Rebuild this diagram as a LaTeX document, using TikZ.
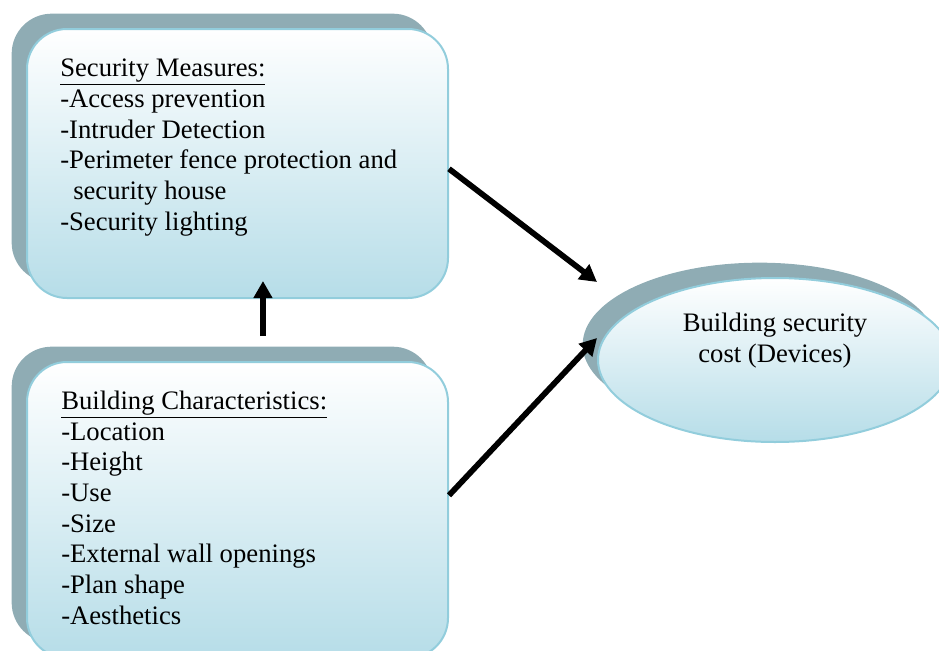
\documentclass[tikz,border=0pt]{standalone}
\usepackage{fontspec}
\setmainfont{Liberation Serif}
\usepackage{xcolor}
\usetikzlibrary{shapes,arrows.meta,positioning,shadows}

\definecolor{shadowgray}{HTML}{8FACB4}
\definecolor{rimblue}{HTML}{92CDDC}
\definecolor{fillblue}{HTML}{B6DDE8}

\tikzset{
    blob/.style={draw=rimblue, line width=1.5pt, top color=white, bottom color=fillblue,
        general shadow={fill=shadowgray, shadow xshift=-11.5pt, shadow yshift=11.5pt}},
    box/.style={blob, rectangle, rounded corners=30pt, inner sep=0pt},
    oval/.style={blob, ellipse, inner sep=0pt},
    txt/.style={inner sep=0pt, align=left, font=\fontsize{20}{23}\selectfont},
    arrow/.style={line width=4.3pt, -{Triangle[length=12.75pt,width=13.5pt]}}
}

\begin{document}
\begin{tikzpicture}[x=0.75pt, y=-0.75pt]
    \useasboundingbox (0,0) rectangle (939,650);

    % the three shapes, coordinates in pixels of the original figure
    \node[box, minimum width=315.75pt, minimum height=201.75pt] (sm) at (237.5,163.5) {};   % security measures
    \node[box, minimum width=315.75pt, minimum height=222pt] (bc) at (237.5,510) {};        % building characteristics
    \node[oval, minimum width=265.5pt, minimum height=123pt] (bsc) at (775,360) {};         % security cost

    % base of a multi-line node is the baseline of its last line
    \node[txt, anchor=base west] (smt) at (60,230) {\underline{Security Measures:}\\-Access prevention\\-Intruder Detection\\-Perimeter fence protection and\\\hspace{9.75pt}security house\\-Security lighting};
    \node[txt, anchor=base west] (bct) at (61,624) {\underline{Building Characteristics:}\\-Location\\-Height\\-Use\\-Size\\-External wall openings\\-Plan shape\\-Aesthetics};
    \node[txt, align=center, anchor=base] (bsct) at (775,362) {Building security\\cost (Devices)};

    \draw[arrow] ([yshift=-4pt]sm.east) -- ([yshift=58.5pt]bsc.west);                    % measures -> cost
    \draw[arrow] ([yshift=11pt]bc.east) -- ([yshift=16.5pt]bsc.west);                    % characteristics -> cost
    \draw[arrow] ([xshift=19.1pt,yshift=18.75pt]bc.north) -- ([xshift=19.1pt,yshift=13.5pt]sm.south); % characteristics -> measures
\end{tikzpicture}
\end{document}
